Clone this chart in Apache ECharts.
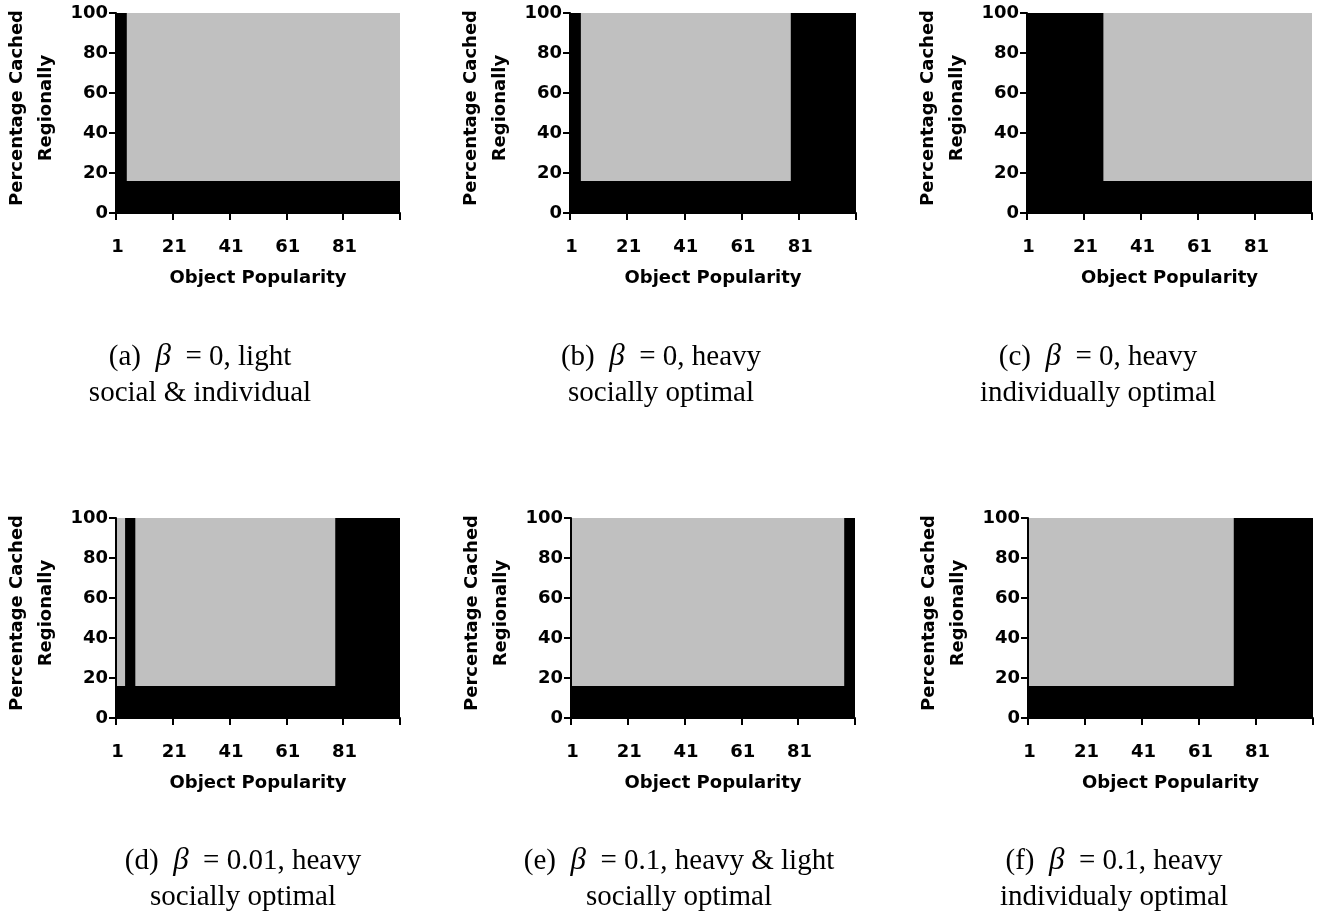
<!DOCTYPE html>
<html>
<head>
<meta charset="utf-8">
<script src="https://cdn.jsdelivr.net/npm/echarts@6/dist/echarts.min.js"></script>
<style>
html,body{margin:0;padding:0;background:#fff;}
#chart{width:1320px;height:917px;}
</style>
</head>
<body>
<div id="chart"></div>
<script>
// ---------- DATA ----------
const popularity = [
  1,2,3,4,5,6,7,8,9,10,11,12,13,14,15,16,17,18,19,20,
  21,22,23,24,25,26,27,28,29,30,31,32,33,34,35,36,37,38,39,40,
  41,42,43,44,45,46,47,48,49,50,51,52,53,54,55,56,57,58,59,60,
  61,62,63,64,65,66,67,68,69,70,71,72,73,74,75,76,77,78,79,80,
  81,82,83,84,85,86,87,88,89,90,91,92,93,94,95,96,97,98,99,100
];
const xTickLabels = ['1','21','41','61','81'];
const yTicks = [0,20,40,60,80,100];

// (a) beta = 0, light : social & individual
const blackA = [
  100,100,100,100,16,16,16,16,16,16, 16,16,16,16,16,16,16,16,16,16,
  16,16,16,16,16,16,16,16,16,16, 16,16,16,16,16,16,16,16,16,16,
  16,16,16,16,16,16,16,16,16,16, 16,16,16,16,16,16,16,16,16,16,
  16,16,16,16,16,16,16,16,16,16, 16,16,16,16,16,16,16,16,16,16,
  16,16,16,16,16,16,16,16,16,16, 16,16,16,16,16,16,16,16,16,16
];
const greyA = [
  0,0,0,0,84,84,84,84,84,84, 84,84,84,84,84,84,84,84,84,84,
  84,84,84,84,84,84,84,84,84,84, 84,84,84,84,84,84,84,84,84,84,
  84,84,84,84,84,84,84,84,84,84, 84,84,84,84,84,84,84,84,84,84,
  84,84,84,84,84,84,84,84,84,84, 84,84,84,84,84,84,84,84,84,84,
  84,84,84,84,84,84,84,84,84,84, 84,84,84,84,84,84,84,84,84,84
];
// (b) beta = 0, heavy : socially optimal
const blackB = [
  100,100,100,100,16,16,16,16,16,16, 16,16,16,16,16,16,16,16,16,16,
  16,16,16,16,16,16,16,16,16,16, 16,16,16,16,16,16,16,16,16,16,
  16,16,16,16,16,16,16,16,16,16, 16,16,16,16,16,16,16,16,16,16,
  16,16,16,16,16,16,16,16,16,16, 16,16,16,16,16,16,16,100,100,100,
  100,100,100,100,100,100,100,100,100,100, 100,100,100,100,100,100,100,100,100,100
];
const greyB = [
  0,0,0,0,84,84,84,84,84,84, 84,84,84,84,84,84,84,84,84,84,
  84,84,84,84,84,84,84,84,84,84, 84,84,84,84,84,84,84,84,84,84,
  84,84,84,84,84,84,84,84,84,84, 84,84,84,84,84,84,84,84,84,84,
  84,84,84,84,84,84,84,84,84,84, 84,84,84,84,84,84,84,0,0,0,
  0,0,0,0,0,0,0,0,0,0, 0,0,0,0,0,0,0,0,0,0
];
// (c) beta = 0, heavy : individually optimal
const blackC = [
  100,100,100,100,100,100,100,100,100,100, 100,100,100,100,100,100,100,100,100,100,
  100,100,100,100,100,100,100,16,16,16, 16,16,16,16,16,16,16,16,16,16,
  16,16,16,16,16,16,16,16,16,16, 16,16,16,16,16,16,16,16,16,16,
  16,16,16,16,16,16,16,16,16,16, 16,16,16,16,16,16,16,16,16,16,
  16,16,16,16,16,16,16,16,16,16, 16,16,16,16,16,16,16,16,16,16
];
const greyC = [
  0,0,0,0,0,0,0,0,0,0, 0,0,0,0,0,0,0,0,0,0,
  0,0,0,0,0,0,0,84,84,84, 84,84,84,84,84,84,84,84,84,84,
  84,84,84,84,84,84,84,84,84,84, 84,84,84,84,84,84,84,84,84,84,
  84,84,84,84,84,84,84,84,84,84, 84,84,84,84,84,84,84,84,84,84,
  84,84,84,84,84,84,84,84,84,84, 84,84,84,84,84,84,84,84,84,84
];
// (d) beta = 0.01, heavy : socially optimal
const blackD = [
  16,16,16,100,100,100,100,16,16,16, 16,16,16,16,16,16,16,16,16,16,
  16,16,16,16,16,16,16,16,16,16, 16,16,16,16,16,16,16,16,16,16,
  16,16,16,16,16,16,16,16,16,16, 16,16,16,16,16,16,16,16,16,16,
  16,16,16,16,16,16,16,16,16,16, 16,16,16,16,16,16,16,100,100,100,
  100,100,100,100,100,100,100,100,100,100, 100,100,100,100,100,100,100,100,100,100
];
const greyD = [
  84,84,84,0,0,0,0,84,84,84, 84,84,84,84,84,84,84,84,84,84,
  84,84,84,84,84,84,84,84,84,84, 84,84,84,84,84,84,84,84,84,84,
  84,84,84,84,84,84,84,84,84,84, 84,84,84,84,84,84,84,84,84,84,
  84,84,84,84,84,84,84,84,84,84, 84,84,84,84,84,84,84,0,0,0,
  0,0,0,0,0,0,0,0,0,0, 0,0,0,0,0,0,0,0,0,0
];
// (e) beta = 0.1, heavy & light : socially optimal
const blackE = [
  16,16,16,16,16,16,16,16,16,16, 16,16,16,16,16,16,16,16,16,16,
  16,16,16,16,16,16,16,16,16,16, 16,16,16,16,16,16,16,16,16,16,
  16,16,16,16,16,16,16,16,16,16, 16,16,16,16,16,16,16,16,16,16,
  16,16,16,16,16,16,16,16,16,16, 16,16,16,16,16,16,16,16,16,16,
  16,16,16,16,16,16,16,16,16,16, 16,16,16,16,16,16,100,100,100,100
];
const greyE = [
  84,84,84,84,84,84,84,84,84,84, 84,84,84,84,84,84,84,84,84,84,
  84,84,84,84,84,84,84,84,84,84, 84,84,84,84,84,84,84,84,84,84,
  84,84,84,84,84,84,84,84,84,84, 84,84,84,84,84,84,84,84,84,84,
  84,84,84,84,84,84,84,84,84,84, 84,84,84,84,84,84,84,84,84,84,
  84,84,84,84,84,84,84,84,84,84, 84,84,84,84,84,84,0,0,0,0
];
// (f) beta = 0.1, heavy : individually optimal
const blackF = [
  16,16,16,16,16,16,16,16,16,16, 16,16,16,16,16,16,16,16,16,16,
  16,16,16,16,16,16,16,16,16,16, 16,16,16,16,16,16,16,16,16,16,
  16,16,16,16,16,16,16,16,16,16, 16,16,16,16,16,16,16,16,16,16,
  16,16,16,16,16,16,16,16,16,16, 16,16,100,100,100,100,100,100,100,100,
  100,100,100,100,100,100,100,100,100,100, 100,100,100,100,100,100,100,100,100,100
];
const greyF = [
  84,84,84,84,84,84,84,84,84,84, 84,84,84,84,84,84,84,84,84,84,
  84,84,84,84,84,84,84,84,84,84, 84,84,84,84,84,84,84,84,84,84,
  84,84,84,84,84,84,84,84,84,84, 84,84,84,84,84,84,84,84,84,84,
  84,84,84,84,84,84,84,84,84,84, 84,84,0,0,0,0,0,0,0,0,
  0,0,0,0,0,0,0,0,0,0, 0,0,0,0,0,0,0,0,0,0
];

const captionLine1 = [
  '(a)  {b|β}  = 0, light',
  '(b)  {b|β}  = 0, heavy',
  '(c)  {b|β}  = 0, heavy',
  '(d)  {b|β}  = 0.01, heavy',
  '(e)  {b|β}  = 0.1, heavy & light',
  '(f)  {b|β}  = 0.1, heavy'
];
const captionLine2 = [
  'social & individual',
  'socially optimal',
  'individually optimal',
  'socially optimal',
  'socially optimal',
  'individualy optimal'
];
const xAxisName = 'Object Popularity';
const yAxisName = 'Percentage Cached\nRegionally';

// ---------- LAYOUT ----------
const blackSeries = [blackA, blackB, blackC, blackD, blackE, blackF];
const greySeries = [greyA, greyB, greyC, greyD, greyE, greyF];
const grids = [
  {left:116, top:13, width:284, height:200},
  {left:570, top:13, width:286, height:200},
  {left:1027, top:13, width:285, height:200},
  {left:116, top:518, width:284, height:200},
  {left:571, top:518, width:284, height:200},
  {left:1028, top:518, width:285, height:200}
];
const capPos = [
  {x:200, y1:357, y2:393},
  {x:661, y1:357, y2:393},
  {x:1098, y1:357, y2:393},
  {x:243, y1:861, y2:897},
  {x:679, y1:861, y2:897},
  {x:1114, y1:861, y2:897}
];

const labelFont = {fontFamily:'DejaVu Sans', fontWeight:'bold', fontSize:18, color:'#000'};

const option = {
  animation:false,
  backgroundColor:'#fff',
  grid: grids.map(g => Object.assign({containLabel:false}, g)),
  xAxis: grids.map((g,i) => ({
    type:'category', gridIndex:i, data:popularity, boundaryGap:true, z:5,
    axisLine:{show:true, lineStyle:{color:'#000', width:2}},
    axisTick:{show:true, interval:19, length:7, inside:false, lineStyle:{color:'#000', width:2}},
    axisLabel:Object.assign({interval:19, margin:25,
      formatter:v => xTickLabels.indexOf(String(v)) >= 0 ? String(v) : ''}, labelFont),
    splitLine:{show:false},
    name:xAxisName, nameLocation:'middle', nameGap:56,
    nameTextStyle:Object.assign({}, labelFont)
  })),
  yAxis: grids.map((g,i) => ({
    type:'value', gridIndex:i, min:yTicks[0], max:yTicks[yTicks.length-1], interval:20, z:5,
    axisLine:{show:true, lineStyle:{color:'#000', width:2}},
    axisTick:{show:true, length:7, inside:false, lineStyle:{color:'#000', width:2}},
    axisLabel:Object.assign({margin:8}, labelFont),
    splitLine:{show:false},
    name:yAxisName, nameLocation:'middle', nameGap:55,
    nameTextStyle:Object.assign({lineHeight:29, padding:[0,0,0,10]}, labelFont)
  })),
  series: [],
  graphic: []
};

for (let i = 0; i < 6; i++) {
  option.series.push({
    type:'bar', xAxisIndex:i, yAxisIndex:i, stack:'s'+i, data:blackSeries[i],
    barWidth:'140%', barGap:'-100%', silent:true,
    itemStyle:{color:'#000000'}
  });
  option.series.push({
    type:'bar', xAxisIndex:i, yAxisIndex:i, stack:'s'+i, data:greySeries[i],
    barWidth:'140%', barGap:'-100%', silent:true,
    itemStyle:{color:'#C0C0C0'}
  });
  const p = capPos[i];
  const rich = {b:{fontFamily:'Liberation Serif', fontStyle:'italic', fontSize:31, fill:'#000'}};
  option.graphic.push({
    type:'text', x:p.x, y:p.y1, silent:true,
    style:{text:captionLine1[i], rich:rich, fontFamily:'Liberation Serif', fontSize:29, fill:'#000',
      align:'center', textAlign:'center', verticalAlign:'middle', textVerticalAlign:'middle'}
  });
  option.graphic.push({
    type:'text', x:p.x, y:p.y2, silent:true,
    style:{text:captionLine2[i], fontFamily:'Liberation Serif', fontSize:29, fill:'#000',
      align:'center', textAlign:'center', verticalAlign:'middle', textVerticalAlign:'middle'}
  });
}

const chart = echarts.init(document.getElementById('chart'), null, {renderer:'canvas'});
chart.setOption(option);
</script>
</body>
</html>
